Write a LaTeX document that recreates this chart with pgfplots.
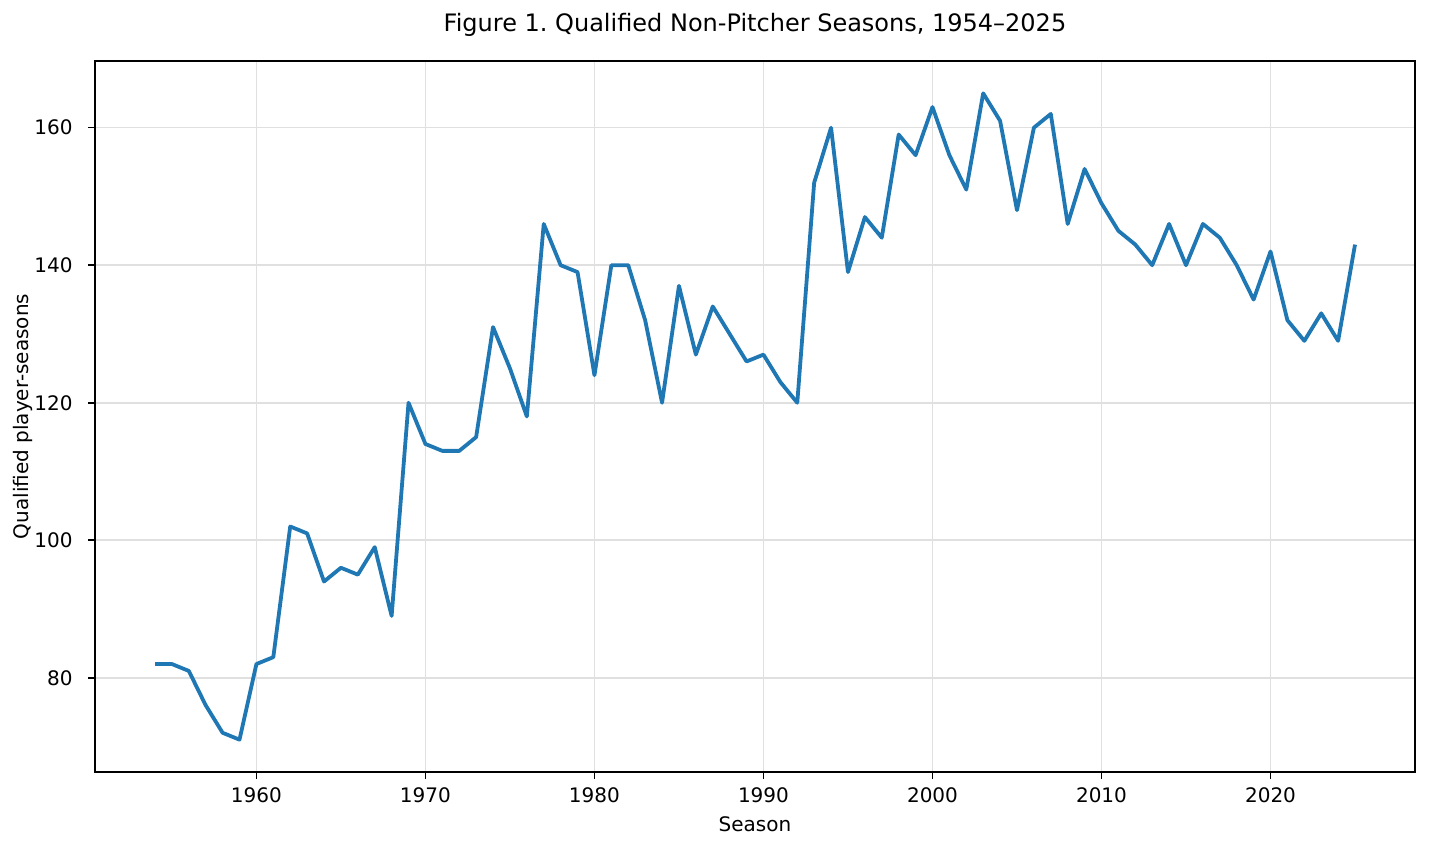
\documentclass[border=0pt]{standalone}
\usepackage{pgfplots}
\pgfplotsset{compat=1.18}
\usepackage{fontspec}
\setmainfont{DejaVu Sans}
\definecolor{tabblue}{HTML}{1F77B4}
\frenchspacing
\begin{document}
\begin{tikzpicture}
\path[use as bounding box] (0,0) rectangle (715pt,425pt);
\begin{axis}[
  at={(47.5pt,39pt)}, anchor=south west,
  scale only axis, width=660pt, height=355.5pt,
  xmin=1950.45, xmax=2028.55, ymin=66.3, ymax=169.7,
  xtick={1960,1970,...,2020}, ytick={80,100,...,160},
  /pgf/number format/1000 sep={},
  /pgf/number format/assume math mode=true,
  tick label style={font=\fontsize{10}{12}\selectfont},
  xticklabel style={yshift=-1pt},
  yticklabel style={xshift=-4.2pt},
  tick align=outside, major tick length=3.5pt,
  every tick/.style={black, line width=0.8pt},
  xtick pos=bottom, ytick pos=left,
  axis line style={line width=0.8pt},
  grid=major, grid style={line width=0.8pt, black!12},
  xlabel={Season}, ylabel={Qualified player-seasons},
  label style={font=\fontsize{10}{12}\selectfont},
  xlabel style={at={(0.5,0)}, anchor=center, yshift=-26pt},
  ylabel style={at={(0,0.5)}, anchor=center, yshift=36pt},
  title={Figure 1.\ Qualified Non-Pitcher Seasons, 1954–2025},
  title style={font=\fontsize{12}{14}\selectfont, at={(0.5,1)}, anchor=center, yshift=12pt},
]
\addplot[tabblue, line width=1.9pt, mark=none, line join=round] table {
x y
1954 82
1955 82
1956 81
1957 76
1958 72
1959 71
1960 82
1961 83
1962 102
1963 101
1964 94
1965 96
1966 95
1967 99
1968 89
1969 120
1970 114
1971 113
1972 113
1973 115
1974 131
1975 125
1976 118
1977 146
1978 140
1979 139
1980 124
1981 140
1982 140
1983 132
1984 120
1985 137
1986 127
1987 134
1988 130
1989 126
1990 127
1991 123
1992 120
1993 152
1994 160
1995 139
1996 147
1997 144
1998 159
1999 156
2000 163
2001 156
2002 151
2003 165
2004 161
2005 148
2006 160
2007 162
2008 146
2009 154
2010 149
2011 145
2012 143
2013 140
2014 146
2015 140
2016 146
2017 144
2018 140
2019 135
2020 142
2021 132
2022 129
2023 133
2024 129
2025 143
};
\end{axis}
\end{tikzpicture}
\end{document}
